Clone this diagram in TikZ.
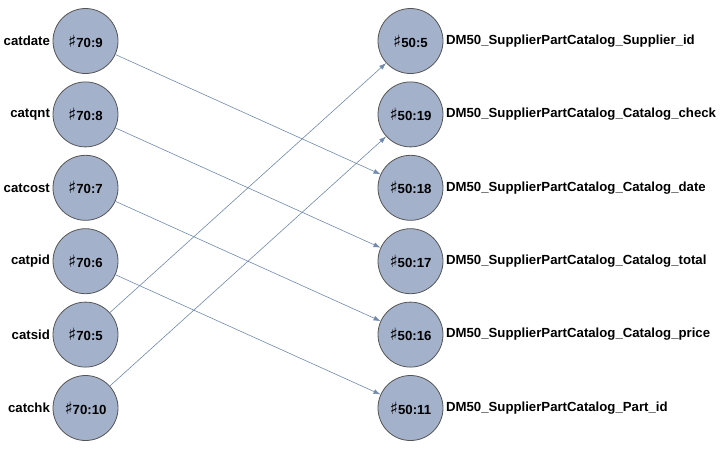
\documentclass[tikz,border=0pt]{standalone}
\usepackage{fontspec}
\setmainfont{Liberation Sans}
\newfontfamily\symfont{DejaVu Sans}
\usetikzlibrary{arrows.meta,positioning}
\definecolor{nodefill}{HTML}{A3B1CB}
\definecolor{nodeedge}{HTML}{555555}
\definecolor{linkblue}{HTML}{7089AE}
\newcommand{\hashmark}{{\symfont\bfseries\fontsize{17}{15}\selectfont ♯}}
\tikzset{
  colnode/.style={
    circle, draw=nodeedge, fill=nodefill, line width=0.8pt,
    minimum size=65pt, inner sep=0pt, font=\bfseries\fontsize{13.2}{15}\selectfont
  },
  collabel/.style={
    font=\bfseries\fontsize{13.2}{15}\selectfont, inner sep=2pt, text=black
  },
  maplink/.style={
    draw=linkblue, line width=0.6pt, -{Latex[length=7pt,width=5pt]}
  }
}
\begin{document}
\begin{tikzpicture}[x=1pt,y=-1pt]
  \useasboundingbox (0,0) rectangle (720,451);
  % source columns
  \foreach \i/\num/\lab in {0/9/catdate,1/8/catqnt,2/7/catcost,3/6/catpid,4/5/catsid,5/10/catchk} {
    \node[colnode,label={[collabel,label distance=0.5pt]left:\lab}] (l\i) at (85.5,{41+\i*73.4}) {\hashmark70:\num};
  }
  % target columns
  \foreach \i/\num/\lab in {0/5/Supplier\_id,1/19/Catalog\_check,2/18/Catalog\_date,3/17/Catalog\_total,4/16/Catalog\_price,5/11/Part\_id} {
    \node[colnode,label={[collabel,label distance=0.5pt]right:DM50\_SupplierPartCatalog\_\lab}] (r\i) at (410.5,{41+\i*73.4}) {\hashmark50:\num};
  }

  \foreach \a/\b in {0/2,1/3,2/4,3/5,4/0,5/1} {
    \draw[maplink] (l\a) -- (r\b);
  }
\end{tikzpicture}
\end{document}
